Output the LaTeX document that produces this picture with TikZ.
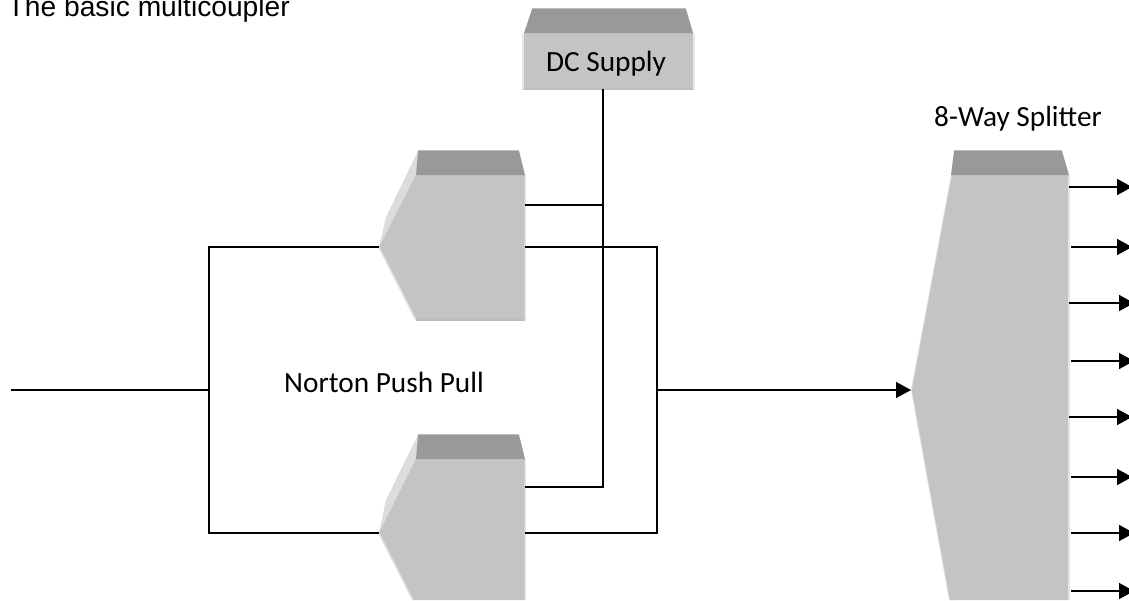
\documentclass[tikz,border=0pt]{standalone}
\usepackage{fontspec}
\setmainfont{Carlito}
\newfontfamily\arialfont{Liberation Sans}
\usetikzlibrary{arrows.meta}
\definecolor{bodygray}{HTML}{C4C4C4}
\definecolor{topgray}{HTML}{999999}
\definecolor{edgegray}{HTML}{BDBDBD}
\definecolor{facetgray}{HTML}{DCDCDC}
\definecolor{hilite}{HTML}{E8E8E8}
\tikzset{
  wire/.style={draw=black,line width=1.6pt},
  feed/.style={wire,-{Triangle[length=15pt,width=16pt]}},
  bodyface/.style={fill=bodygray,draw=none},
  topface/.style={fill=topgray,draw=none},
  facet/.style={fill=facetgray,draw=none},
  rimlight/.style={fill=hilite,draw=none},
  rimedge/.style={draw=edgegray,line width=1.5pt},
  lbl/.style={inner sep=0pt,font=\fontsize{29.3}{33}\selectfont,text=black,anchor=base}
}
\begin{document}
\begin{tikzpicture}[x=1pt,y=-1pt]
\useasboundingbox (0,0) rectangle (1129,600);
% DC supply
\fill[rimlight] (522,33) rectangle (695,90);
\fill[bodyface] (524,33) rectangle (693,89);
\draw[rimedge] (524,89) -- (693,89);
\fill[topface] (532,9) -- (686,9) -- (693,33) -- (524,33) -- cycle;
\draw[edgegray,line width=0.8pt] (532,8.5) -- (686,8.5);
% upper amplifier
\fill[facet] (418,151) -- (386,217) -- (379,247) -- (416,180) -- cycle;
\fill[rimlight] (524,175) rectangle (526,320);
\fill[bodyface] (416,175) -- (524.5,175) -- (524.5,320) -- (416,320) -- (379,247) -- cycle;
\draw[facetgray,line width=1.5pt] (379,247) -- (416,320);
\draw[rimedge] (416,320) -- (525,320);
\fill[topface] (418,151) -- (519,151) -- (525,175) -- (416,175) -- cycle;
\draw[edgegray,line width=0.8pt] (418,150.5) -- (519,150.5);
\draw[edgegray,line width=1pt] (416,175) -- (525,175);
% lower amplifier
\fill[facet] (418,435) -- (386,500) -- (379,533) -- (416,464) -- cycle;
\fill[rimlight] (524,459) rectangle (526,600);
\fill[bodyface] (416,459) -- (524.5,459) -- (524.5,600) -- (413,600) -- (379,533) -- cycle;
\draw[facetgray,line width=1.5pt] (379,533) -- (413,600);
\fill[topface] (418,435) -- (519,435) -- (525,459) -- (416,459) -- cycle;
\draw[edgegray,line width=0.8pt] (418,434.5) -- (519,434.5);
\draw[edgegray,line width=1pt] (416,459) -- (525,459);
% splitter
\fill[rimlight] (1067,175) rectangle (1070,600);
\fill[facetgray] (951,175) -- (911,390) -- (949,600) -- (953,600) -- (915,390) -- (955,175) -- cycle;
\fill[bodyface] (952,175) -- (1068,175) -- (1068,600) -- (950,600) -- (912,390) -- cycle;
\fill[topface] (954,151) -- (1062,151) -- (1069,175) -- (951,175) -- cycle;
\draw[edgegray,line width=0.8pt] (954,150.5) -- (1062,150.5);
% anchors
\coordinate (dcout) at (603,89);
\coordinate (dcup) at (603,205);
\coordinate (dclow) at (603,487);
\coordinate (a1in) at (379,247);
\coordinate (a2in) at (379,533);
\coordinate (a1dc) at (525,205);
\coordinate (a2dc) at (525,487);
\coordinate (a1out) at (525,247);
\coordinate (a2out) at (525,533);
\coordinate (src) at (11,390);
\coordinate (inj) at (209,390);
\coordinate (inup) at (209,247);
\coordinate (indn) at (209,533);
\coordinate (outup) at (657,247);
\coordinate (outdn) at (657,533);
\coordinate (outj) at (657,390);
\coordinate (spin) at (911,390);
% wires
\draw[wire] (dcout) -- (dclow) -- (a2dc);
\draw[wire] (a1dc) -- (dcup);
\draw[wire] (src) -- (inj);
\draw[wire] (a1in) -- (inup) -- (indn) -- (a2in);
\draw[wire] (a1out) -- (outup) -- (outdn) -- (a2out);
\draw[feed] (outj) -- (spin);
% outputs
\foreach \yy/\xa/\xb in {187/1069/1132,247/1071/1132,303/1069/1134,361/1071/1134,417/1069/1132,477/1071/1132,533/1071/1134,591/1071/1134}{
  \coordinate (oa\yy) at (\xa,\yy);
  \coordinate (ob\yy) at (\xb,\yy);
  \draw[feed] (oa\yy) -- (ob\yy);
}
% labels
\node[inner sep=0pt,anchor=base west,font=\arialfont\fontsize{28.2}{32}\selectfont] (title) at (7.5,16) {The basic multicoupler};
\node[lbl] (dclabel) at (606,71) {DC Supply};
\node[lbl] (split) at (1018,126) {8-Way Splitter};
\node[lbl] (norton) at (384,392) {Norton Push Pull};
\end{tikzpicture}
\end{document}
